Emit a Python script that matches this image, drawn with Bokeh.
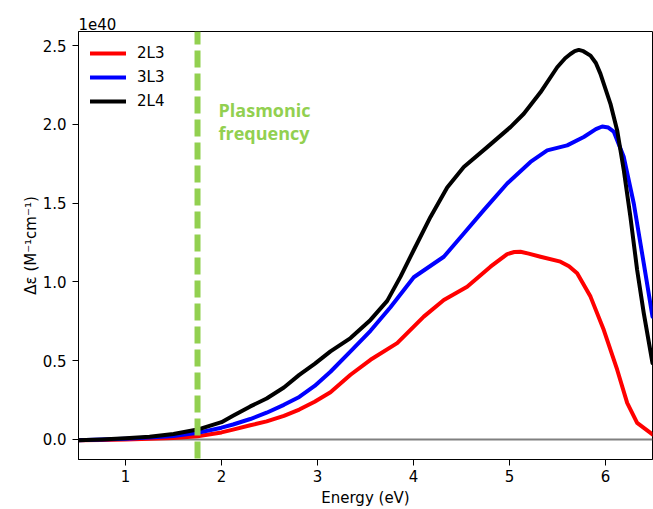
from bokeh.plotting import figure
from bokeh.models import (Range1d, Span, Label, Legend, LegendItem, FixedTicker,
                          NumeralTickFormatter, Title)
from bokeh.embed import file_html
from bokeh.resources import INLINE

# ---- data (Δε in units of 1e40 M^-1 cm^-1) ----
energy_2L3 = [0.5, 0.75, 1.0, 1.25, 1.5, 1.75, 2.0, 2.12, 2.3, 2.47, 2.65, 2.81, 2.97,
              3.135, 3.344, 3.552, 3.83, 4.107, 4.316, 4.559, 4.802, 4.976, 5.05, 5.115,
              5.2, 5.323, 5.531, 5.62, 5.705, 5.844, 5.982, 6.122, 6.226, 6.33, 6.49]
de_2L3 = [-0.005, -0.003, 0.0, 0.004, 0.01, 0.021, 0.045, 0.063, 0.09, 0.115, 0.15,
          0.19, 0.24, 0.30, 0.411, 0.506, 0.612, 0.78, 0.886, 0.97, 1.097, 1.177, 1.19,
          1.192, 1.18, 1.16, 1.129, 1.10, 1.055, 0.907, 0.696, 0.443, 0.232, 0.106, 0.032]

energy_3L3 = [0.5, 0.75, 1.0, 1.25, 1.5, 1.75, 2.0, 2.12, 2.3, 2.47, 2.65, 2.81, 2.97,
              3.135, 3.344, 3.552, 3.76, 4.003, 4.316, 4.524, 4.732, 4.976, 5.219,
              5.393, 5.601, 5.774, 5.9, 5.966, 6.03, 6.086, 6.191, 6.295, 6.399, 6.49]
de_3L3 = [-0.005, 0.0, 0.005, 0.012, 0.022, 0.042, 0.075, 0.095, 0.13, 0.17, 0.22,
          0.27, 0.34, 0.43, 0.56, 0.69, 0.84, 1.03, 1.16, 1.308, 1.456, 1.625,
          1.762, 1.835, 1.867, 1.92, 1.97, 1.987, 1.98, 1.955, 1.793, 1.498, 1.118, 0.78]

energy_2L4 = [0.5, 0.75, 1.0, 1.25, 1.5, 1.75, 2.0, 2.12, 2.3, 2.47, 2.65, 2.81, 2.97,
              3.135, 3.344, 3.552, 3.726, 3.865, 4.003, 4.177, 4.351, 4.524, 4.768,
              5.01, 5.149, 5.323, 5.497, 5.58, 5.635, 5.68, 5.722, 5.77, 5.844, 5.9,
              5.948, 6.052, 6.122, 6.191, 6.26, 6.33, 6.399, 6.49]
de_2L4 = [-0.005, 0.0, 0.008, 0.018, 0.035, 0.063, 0.11, 0.15, 0.21, 0.26, 0.33, 0.41,
          0.48, 0.559, 0.644, 0.759, 0.88, 1.034, 1.203, 1.413, 1.6, 1.73, 1.856,
          1.983, 2.068, 2.204, 2.363, 2.42, 2.447, 2.465, 2.473, 2.465, 2.437, 2.39,
          2.321, 2.131, 1.962, 1.709, 1.413, 1.076, 0.802, 0.485]

series_names = ["2L3", "3L3", "2L4"]
series_x = [energy_2L3, energy_3L3, energy_2L4]
series_values = [de_2L3, de_3L3, de_2L4]
series_colors = ["#ff0000", "#0000ff", "#000000"]
x_ticks = [1, 2, 3, 4, 5, 6]
y_ticks = [0.0, 0.5, 1.0, 1.5, 2.0, 2.5]
plasmonic_energy = 1.75
plasmonic_text = ["Plasmonic", "frequency"]
y_multiplier_text = "1e40"

FONT = "DejaVu Sans"

p = figure(width=653, height=509, output_backend="svg", toolbar_location=None,
           x_range=Range1d(0.51, 6.49), y_range=Range1d(-0.127, 2.59),
           min_border_left=78, min_border_right=1, min_border_top=31, min_border_bottom=49)

p.outline_line_color = "black"
p.outline_line_width = 1
p.xgrid.visible = False
p.ygrid.visible = False

p.xaxis.ticker = FixedTicker(ticks=x_ticks)
p.yaxis.ticker = FixedTicker(ticks=y_ticks)
p.yaxis.formatter = NumeralTickFormatter(format="0.0")
p.axis.minor_tick_line_color = None
p.axis.major_tick_out = 6
p.axis.major_tick_in = 0
p.axis.axis_line_color = "black"
p.axis.major_tick_line_color = "black"
p.axis.major_label_text_font = FONT
p.axis.major_label_text_font_size = "15px"
p.axis.major_label_text_color = "black"
p.xaxis.major_label_standoff = 4
p.yaxis.major_label_standoff = 6
p.axis.axis_label_text_font = FONT
p.axis.axis_label_text_font_size = "15px"
p.axis.axis_label_text_font_style = "normal"
p.axis.axis_label_text_color = "black"
p.xaxis.axis_label = "Energy (eV)"
p.yaxis.axis_label = "Δε (M⁻¹cm⁻¹)"
p.xaxis.axis_label_standoff = 4
p.yaxis.axis_label_standoff = 0

# multiplier text above the frame (like matplotlib's offset text)
p.add_layout(Title(text=y_multiplier_text, align="left", text_font=FONT,
                   text_font_size="15px", text_font_style="normal", text_color="black",
                   standoff=3, offset=0), "above")

# zero baseline
p.add_layout(Span(location=0, dimension="width", line_color="#808080",
                  line_width=2, level="underlay"))

renderers = []
for xs, vals, c in zip(series_x, series_values, series_colors):
    r = p.line(xs, vals, line_color=c, line_width=4, line_join="round", line_cap="round")
    renderers.append(r)

legend = Legend(items=[LegendItem(label=n, renderers=[r]) for n, r in zip(series_names, renderers)],
                location="top_left", border_line_color=None, background_fill_alpha=0,
                margin=12, padding=0, spacing=4, glyph_width=36, glyph_height=20,
                label_height=20, label_standoff=11, label_text_font=FONT,
                label_text_font_size="15px", label_text_color="black")
p.add_layout(legend)

# plasmonic frequency marker
p.add_layout(Span(location=plasmonic_energy, dimension="height", line_color="#92d050",
                  line_width=6, line_dash="17 6", line_dash_offset=4))
p.add_layout(Label(x=plasmonic_energy, y=2.089, x_offset=21, text=plasmonic_text[0],
                   text_font="Open Sans", text_font_style="bold", text_color="#92d050",
                   text_font_size="18px", text_baseline="alphabetic"))
p.add_layout(Label(x=plasmonic_energy, y=1.943, x_offset=21, text=plasmonic_text[1],
                   text_font="Open Sans", text_font_style="bold", text_color="#92d050",
                   text_font_size="18px", text_baseline="alphabetic"))

open("out.html", "w").write(file_html(p, INLINE))
